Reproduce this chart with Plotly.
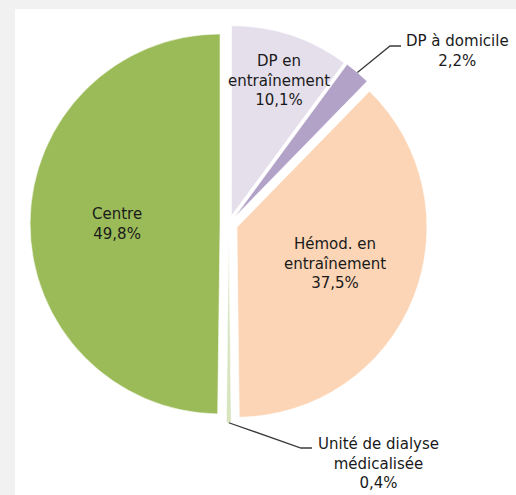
import math
import plotly.graph_objects as go

# ---- data ----
labels = ["DP en entraînement", "DP à domicile", "Hémod. en entraînement",
          "Unité de dialyse médicalisée", "Centre"]
label_text = ["DP en<br>entraînement", "DP à domicile", "Hémod. en<br>entraînement",
              "Unité de dialyse<br>médicalisée", "Centre"]
values = [10.1, 2.2, 37.5, 0.4, 49.8]
colors = ["#E5DFEC", "#B3A2C7", "#FBD5B5", "#D7E4BD", "#9BBB59"]

W, H = 516, 495
PULL = 0.046
CX, CY = 228.8, 224.0          # pie centre in pixels
R = 190.0                      # pie radius in pixels

def fx(x):
    return x / W

def fy(y):
    return 1 - y / H

half = R * (1 + PULL)
dom_x = [fx(CX - half), fx(CX + half)]
dom_y = [fy(CY + half), fy(CY - half)]

fig = go.Figure(go.Pie(
    labels=labels,
    values=values,
    marker=dict(colors=colors, line=dict(color="white", width=0.6)),
    sort=False,
    direction="clockwise",
    rotation=0,
    pull=PULL,
    textinfo="none",
    hoverinfo="label+percent",
    showlegend=False,
    domain=dict(x=dom_x, y=dom_y),
))

# slice mid-angles (degrees clockwise from 12 o'clock)
total = sum(values)
mids = []
acc = 0.0
for v in values:
    mids.append((acc + v / 2) / total * 360)
    acc += v

def fmt(v):
    return f"{v:.1f}".replace(".", ",") + "%"

font = dict(family="DejaVu Sans, Arial, sans-serif", size=15, color="#1a1a1a")

# label positions (pixels) - layout only
label_pos = {
    0: (279, 81),
    1: (457, 51),
    2: (335, 263),
    3: (378, 463),
    4: (117, 224),
}
annotations = []
for i, (x, y) in label_pos.items():
    annotations.append(dict(
        x=fx(x), y=fy(y), xref="paper", yref="paper",
        text=f"{label_text[i]}<br>{fmt(values[i])}",
        showarrow=False, font=font, align="center",
        xanchor="center", yanchor="middle",
    ))

shapes = [
    dict(type="rect", xref="paper", yref="paper",
         x0=fx(15), x1=fx(W + 5), y0=fy(H + 5), y1=fy(9),
         fillcolor="white", line=dict(width=0), layer="below"),
]

# leader lines for the two small slices
elbows = {1: [(390, 46), (401, 46)], 3: [(301, 448), (312, 448)]}
for i, pts in elbows.items():
    a = math.radians(mids[i])
    dist = R * (1 + PULL)
    sx = CX + dist * math.sin(a)
    sy = CY - dist * math.cos(a)
    path = f"M {fx(sx)},{fy(sy)}"
    for (px, py) in pts:
        path += f" L {fx(px)},{fy(py)}"
    shapes.append(dict(type="path", xref="paper", yref="paper", path=path,
                       line=dict(color="#3a3a3a", width=1.3), layer="above"))

fig.update_layout(
    width=W, height=H,
    margin=dict(l=0, r=0, t=0, b=0),
    paper_bgcolor="#f1f1f1",
    annotations=annotations,
    shapes=shapes,
)

fig.write_html(
    "out.html",
    config={"displayModeBar": False},
    post_script="document.body.style.margin='0';document.body.style.overflow='hidden';",
)
